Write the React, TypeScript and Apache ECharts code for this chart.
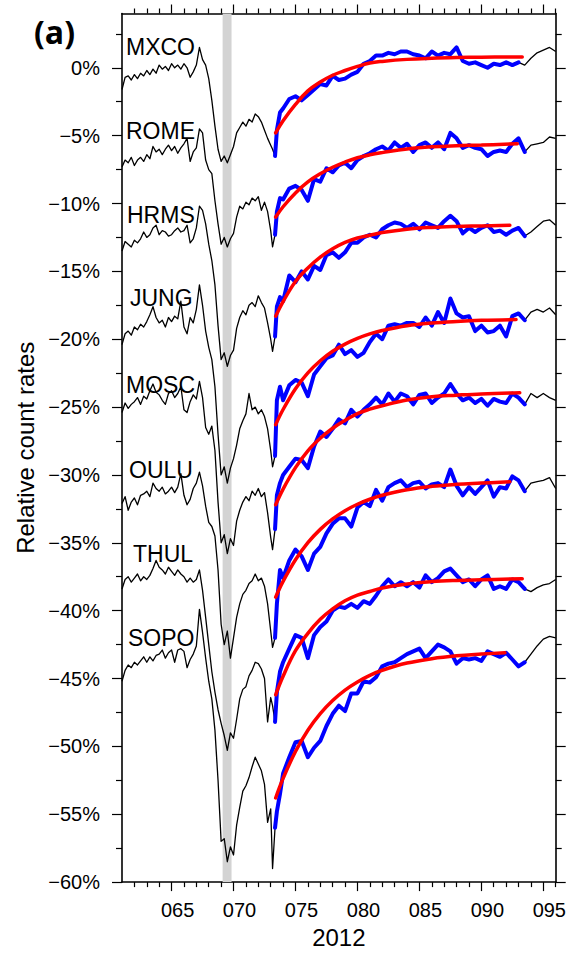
import React, { useEffect, useRef } from "react";
import * as echarts from "echarts";

// Day-of-year 2012 sample points (shared by all station traces)
const days = [
  61, 61.25, 61.5, 61.75, 62, 62.25, 62.5, 62.75, 63, 63.25, 63.5, 63.75,
  64, 64.25, 64.5, 64.75, 65, 65.25, 65.5, 65.75, 66, 66.25, 66.5, 66.75,
  67, 67.25, 67.5, 67.75, 68, 68.25, 68.5, 68.75, 69, 69.25, 69.5, 69.75,
  70, 70.25, 70.5, 70.75, 71, 71.25, 71.5, 71.75, 72, 72.25, 72.5, 72.75,
  73,
  73.15, 73.35, 73.5, 73.75,
  74, 74.5, 75, 75.5, 76, 76.5, 77, 77.5, 78, 78.5,
  79, 79.5, 80, 80.5, 81, 81.5, 82, 82.5, 83, 83.5,
  84, 84.5, 85, 85.5, 86, 86.5, 87, 87.5, 88, 88.5,
  89, 89.5, 90, 90.5, 91, 91.5, 92, 92.5, 93, 93.5,
  94, 94.5, 95, 95.5, 96,
];

const stations = ["MXCO", "ROME", "HRMS", "JUNG", "MOSC", "OULU", "THUL", "SOPO"];

const mxco = [
  -1.6, -0.7, -0.6, -0.9, -0.5, -0.8, -0.4, -0.6, -0.2, -0.5, -0.1, -0.4,
  0.2, -0.1, 0.1, -0.2, 0.3, 0.0, 0.2, -0.1, 0.3, 0.0, -0.7, -0.3,
  0.2, 1.5, 0.6, 0.2, -0.8, -2.4, -4.3, -6.0, -6.9, -6.5, -7.0, -6.4,
  -5.8, -4.8, -4.4, -4.0, -4.3, -3.8, -4.0, -3.4, -3.6, -4.0, -4.6, -5.2,
  -5.7,
  -6.0, -6.5, -4.6, -3.3,
  -3.0, -2.3, -2.1, -2.4, -2.0, -1.6, -1.2, -1.3, -0.6, -0.9,
  -0.8, -0.5, -0.3, 0.3, 0.5, 0.9, 0.9, 1.1, 1.0, 1.2,
  1.2, 1.0, 0.9, 0.7, 1.2, 0.9, 1.1, 1.0, 1.5, 0.5,
  0.3, 0.4, 0.2, 0.0, 0.3, 0.2, 0.4, 0.2, 0.4, 0.2,
  0.7, 1.1, 1.3, 1.5, 1.2,
];

const rome = [
  -7.3, -6.8, -7.0, -6.6, -7.2, -6.8, -6.6, -6.9, -6.4, -6.7, -5.8, -6.2,
  -6.0, -6.4, -6.0, -5.7, -6.1, -5.8, -6.3, -5.9, -5.6, -5.2, -6.9, -6.2,
  -5.9, -4.5, -4.8, -6.8, -7.5, -7.8, -9.8, -11.5, -13.0, -12.5, -13.2, -12.6,
  -12.2, -11.0, -10.2, -10.4, -9.9, -10.1, -9.6, -9.8, -9.5, -10.5, -9.9, -10.6,
  -12.0,
  -13.2, -12.3, -10.6, -9.6,
  -9.7, -8.9, -8.7, -9.0, -9.8, -8.2, -8.4, -7.4, -7.7, -7.2,
  -7.0, -7.4, -6.8, -6.5, -6.3, -6.0, -5.8, -6.1, -5.5, -5.9,
  -5.6, -6.2, -5.7, -5.5, -5.9, -5.5, -6.0, -4.8, -5.2, -5.9,
  -5.7, -5.9, -6.0, -6.5, -6.2, -6.1, -6.2, -5.6, -5.2, -6.2,
  -5.7, -5.6, -5.5, -5.1, -5.2,
];

const hrms = [
  -13.5, -12.8, -13.0, -13.2, -12.7, -12.9, -12.6, -12.1, -12.5, -12.3, -11.8, -11.6,
  -12.3, -12.0, -12.1, -12.4, -12.3, -12.0, -11.8, -12.1, -12.0, -11.6, -12.9, -12.6,
  -11.8, -10.2, -10.5, -11.5, -13.0, -14.2, -16.0, -19.0, -21.5, -21.0, -22.0, -21.2,
  -20.8, -19.2, -18.4, -17.9, -18.2, -17.5, -17.3, -17.6, -16.8, -17.3, -17.7, -18.8,
  -20.0,
  -20.9, -19.8, -17.6, -16.9,
  -17.2, -15.3, -15.8, -15.0, -15.6, -14.6, -14.9, -13.8, -13.6, -14.0,
  -13.6, -12.9, -12.9, -12.5, -12.3, -12.5, -11.9, -11.6, -11.4, -11.5,
  -11.8, -11.5, -11.9, -11.4, -11.6, -11.8, -11.3, -10.9, -11.3, -12.2,
  -11.8, -12.1, -11.8, -11.6, -12.1, -12.0, -12.3, -12.0, -11.8, -12.4,
  -12.1, -11.7, -11.3, -11.2, -11.6,
];

const jung = [
  -20.4, -19.6, -19.4, -19.7, -19.1, -19.3, -18.9, -19.1, -18.7, -18.2, -17.6, -18.4,
  -18.8, -18.6, -19.1, -18.4, -18.7, -18.3, -18.5, -17.2, -19.1, -19.6, -18.4, -18.8,
  -17.8, -16.0, -17.5, -19.4, -20.6, -21.5, -23.5, -27.0, -30.0, -29.4, -30.6, -29.5,
  -28.8, -27.8, -26.6, -26.0, -25.5, -24.0, -25.2, -25.0, -25.5, -25.2, -25.7, -26.6,
  -28.2,
  -29.4, -28.6, -24.5, -23.5,
  -24.5, -23.4, -23.0, -23.2, -24.2, -22.6, -22.0, -21.4, -21.2, -20.4,
  -21.1, -20.8, -21.3, -21.0, -20.2, -19.6, -20.0, -19.0, -18.9, -19.0,
  -18.8, -18.8, -19.1, -18.4, -19.0, -18.0, -18.8, -17.0, -18.1, -18.4,
  -18.3, -19.4, -19.0, -19.5, -19.4, -19.0, -19.8, -18.3, -18.1, -18.6,
  -18.0, -17.8, -18.0, -17.7, -18.2,
];

const mosc = [
  -25.4, -24.7, -25.1, -24.8, -24.6, -24.3, -24.8, -24.2, -24.4, -23.8, -23.3, -23.9,
  -24.1, -24.5, -24.8, -24.0, -23.8, -24.3, -24.0, -23.5, -25.2, -25.4, -24.6, -24.1,
  -24.4, -23.1, -24.3, -26.5, -27.0, -26.4, -28.2, -32.0, -35.0, -34.4, -35.8, -34.7,
  -35.2, -33.4, -32.6, -32.0, -31.6, -31.9, -31.2, -31.5, -31.0, -31.6, -31.3, -32.8,
  -34.6,
  -35.5, -34.0, -31.5, -30.6,
  -30.0, -29.4, -28.8, -28.9, -29.5, -27.9, -26.8, -27.2, -26.6, -25.9,
  -26.2, -25.2, -25.7, -25.2, -24.8, -24.3, -24.8, -24.0, -24.6, -24.0,
  -24.2, -24.8, -24.1, -24.0, -24.7, -24.3, -24.0, -23.3, -24.0, -24.5,
  -24.3, -24.7, -24.4, -24.9, -24.4, -24.6, -24.7, -24.0, -24.3, -24.8,
  -24.0, -24.3, -24.0, -24.3, -24.5,
];

const oulu = [
  -32.1, -31.6, -32.6, -32.0, -31.7, -32.2, -31.5, -31.4, -31.2, -31.6, -30.6, -31.0,
  -31.2, -30.9, -31.4, -31.2, -30.9, -31.3, -30.9, -29.9, -31.5, -32.2, -31.8, -31.0,
  -30.6, -29.8, -30.8, -32.3, -33.5, -33.8, -34.5, -37.0, -41.0, -42.5, -41.5, -43.5,
  -42.0, -40.5, -39.5, -38.8, -38.5, -38.0, -37.8, -37.3, -37.8, -37.6, -38.2, -39.5,
  -41.5,
  -42.7, -42.0, -39.5, -37.0,
  -37.6, -36.3, -35.5, -36.0, -37.0, -35.8, -35.3, -34.3, -33.6, -33.2,
  -33.2, -33.8, -32.4, -32.0, -32.3, -31.1, -31.9, -30.9, -30.6, -30.4,
  -30.9, -30.6, -30.5, -31.0, -30.7, -30.6, -30.9, -29.6, -30.8, -31.5,
  -30.9, -31.4, -30.9, -30.4, -31.6, -30.9, -31.0, -30.1, -30.4, -31.2,
  -30.6, -30.5, -30.4, -30.2, -31.0,
];

const thul = [
  -38.4, -37.7, -37.5, -37.9, -37.6, -37.3, -37.8, -37.5, -37.7, -37.4, -36.9, -36.3,
  -36.8, -37.0, -37.3, -36.8, -37.1, -37.4, -37.0, -37.3, -37.5, -37.9, -37.6, -37.9,
  -37.7, -37.0, -38.5, -40.5, -42.5, -44.5, -46.0, -47.3, -48.3, -49.2, -50.3, -49.0,
  -49.4, -48.0, -46.5, -45.8, -45.6, -44.8, -44.4, -43.8, -43.9, -44.3, -45.0, -48.2,
  -46.4,
  -47.0, -48.2, -46.0, -44.5,
  -43.8, -42.8, -41.8, -42.0, -43.5, -41.8, -41.2, -40.8, -40.0, -39.7,
  -39.8, -39.5, -39.8, -39.3, -39.5, -38.9, -38.2, -37.7, -38.2, -37.9,
  -38.2, -37.9, -38.3, -37.4, -37.9, -37.6, -37.1, -36.9, -37.4, -37.9,
  -37.7, -38.2, -37.7, -37.4, -38.4, -38.2, -38.4, -37.7, -37.9, -38.4,
  -38.6, -38.3, -38.1, -38.0, -37.7,
];

const sopo = [
  -45.2, -44.4, -44.0, -44.2, -43.8, -44.0, -43.7, -43.4, -43.8, -43.4, -43.7, -43.3,
  -43.2, -42.9, -43.5, -43.1, -42.9, -43.8, -42.9, -42.8, -43.0, -44.2, -43.6, -43.2,
  -42.6, -39.9, -41.6, -43.5, -45.2, -46.5, -48.8, -52.5, -57.0, -56.8, -58.5, -57.4,
  -58.0, -55.8, -54.5, -53.3, -52.9, -52.3, -51.5, -50.8, -51.3, -51.8, -52.8, -55.6,
  -54.6,
  -59.0, -56.0, -54.8, -53.5,
  -52.0, -50.8, -49.7, -49.6, -50.8, -50.1, -49.6, -48.5, -47.6, -47.0,
  -47.4, -46.1, -46.1, -45.2, -45.3, -44.9, -44.1, -43.9, -43.8, -43.5,
  -43.2, -43.0, -42.8, -43.5, -43.0, -42.5, -42.7, -43.0, -43.9, -43.5,
  -43.6, -43.5, -43.7, -43.0, -43.2, -43.4, -43.1, -43.6, -44.1, -43.8,
  -43.2, -42.6, -42.1, -41.9, -42.0,
];

const stationValues = [mxco, rome, hrms, jung, mosc, oulu, thul, sopo];

// Recovery phase shown in blue
const recoveryStart = 73.35;
const recoveryEnd = [93, 93.5, 93.5, 93.5, 93.5, 93.5, 93.5, 93.5];

// Fitted recovery curves (red)
const fitDays = [73.4, 74, 75, 76, 77, 78, 79, 80, 81, 82, 84, 86, 88, 90];
const mxcoFit = [-4.8, -3.9, -2.7, -1.7, -1.05, -0.55, -0.2, 0.1, 0.35, 0.47, 0.62, 0.7, 0.75, 0.78];
const romeFit = [-11.0, -10.24, -9.22, -8.41, -7.81, -7.33, -6.95, -6.63, -6.41, -6.25, -5.98, -5.82, -5.74, -5.69];
const hrmsFit = [-18.3, -17.23, -15.75, -14.75, -13.95, -13.34, -12.87, -12.54, -12.34, -12.14, -11.89, -11.76, -11.69, -11.65];
const jungFit = [-26.3, -25.18, -23.65, -22.48, -21.59, -20.89, -20.36, -19.94, -19.61, -19.36, -19.01, -18.81, -18.69, -18.61];
const moscFit = [-32.2, -31.04, -29.46, -28.22, -27.3, -26.56, -25.98, -25.48, -25.15, -24.9, -24.48, -24.23, -24.12, -24.03];
const ouluFit = [-39.0, -37.84, -36.25, -34.99, -34.01, -33.24, -32.63, -32.16, -31.79, -31.5, -31.09, -30.84, -30.69, -30.6];
const thulFit = [-46.2, -44.83, -42.95, -41.67, -40.64, -39.87, -39.27, -38.85, -38.59, -38.33, -38.03, -37.86, -37.77, -37.72];
const sopoFit = [-53.8, -52.36, -50.38, -48.81, -47.59, -46.62, -45.85, -45.25, -44.77, -44.39, -43.86, -43.54, -43.33, -43.2];
const fitValues = [mxcoFit, romeFit, hrmsFit, jungFit, moscFit, ouluFit, thulFit, sopoFit];
const fitEnds = [
  [93.3, 0.8], [92.9, -5.6], [92.3, -11.6], [92.8, -18.55],
  [93.1, -23.95], [92.3, -30.5], [93.3, -37.65], [91.9, -43.1],
];

// Shock arrival interval (grey band)
const eventStart = 69.12;
const eventEnd = 69.84;

// Axis ticks
const xMajorTicks = [65, 70, 75, 80, 85, 90, 95];
const xMinorTicks = [62, 63, 64, 66, 67, 68, 69, 71, 72, 73, 74, 76, 77, 78, 79, 81, 82, 83, 84, 86, 87, 88, 89, 91, 92, 93, 94, 96];
const yMajorTicks = [-60, -55, -50, -45, -40, -35, -30, -25, -20, -15, -10, -5, 0];
const yMinorTicks = [-57.5, -52.5, -47.5, -42.5, -37.5, -32.5, -27.5, -22.5, -17.5, -12.5, -7.5, -2.5, 2.5];

const FONT = "'Liberation Sans', Arial, Helvetica, sans-serif";

export default function App() {
  const ref = useRef<HTMLDivElement>(null);

  useEffect(() => {
    if (!ref.current) return;
    const chart = echarts.init(ref.current, null, { renderer: "svg" });

    const axisLine = { show: true, onZero: false, lineStyle: { color: "#000", width: 1.6 } };
    const noLine = { show: false, onZero: false };
    const tickStyle = { color: "#000", width: 1.2 };

    const xBase = { type: "value", min: 61, max: 96, gridIndex: 0, splitLine: { show: false } };
    const yBase = { type: "value", min: -60, max: 4, gridIndex: 0, splitLine: { show: false } };

    const series: any[] = [
      {
        type: "line",
        data: [],
        z: 1,
        silent: true,
        markArea: {
          silent: true,
          itemStyle: { color: "#d3d3d3" },
          data: [[{ xAxis: eventStart }, { xAxis: eventEnd }]],
        },
      },
    ];

    stationValues.forEach((vals, i) => {
      const full = days.map((d, k) => [d, vals[k]]);
      const blue = full.filter(([d]) => d >= recoveryStart && d <= recoveryEnd[i]);
      const fit = fitDays
        .filter((d) => d <= fitEnds[i][0])
        .map((d, k) => [d, fitValues[i][k]])
        .concat([fitEnds[i]]);
      series.push({
        type: "line",
        name: stations[i],
        data: full,
        symbol: "none",
        silent: true,
        z: 2,
        lineStyle: { color: "#000", width: 1.3, join: "round" },
        itemStyle: { color: "#000" },
      });
      series.push({
        type: "line",
        name: stations[i] + " recovery",
        data: blue,
        symbol: "none",
        silent: true,
        z: 3,
        lineStyle: { color: "#0000ff", width: 4, join: "round", cap: "round" },
        itemStyle: { color: "#0000ff" },
      });
      series.push({
        type: "line",
        name: stations[i] + " fit",
        data: fit,
        smooth: 0.4,
        symbol: "none",
        silent: true,
        z: 4,
        lineStyle: { color: "#ff0000", width: 3.5, cap: "round" },
        itemStyle: { color: "#ff0000" },
      });
    });

    const labelPos = [
      [126, 47], [126, 131], [127, 215], [130, 298],
      [126, 385], [129, 470], [133, 554], [128, 638],
    ];

    const option: any = {
      animation: false,
      backgroundColor: "#fff",
      grid: { left: 122, right: 10.5, top: 13.5, bottom: 66 },
      xAxis: [
        {
          ...xBase,
          position: "bottom",
          axisLine,
          axisTick: { show: true, customValues: xMajorTicks, length: 9, lineStyle: tickStyle },
          axisLabel: {
            customValues: xMajorTicks,
            formatter: (v: number) => ("00" + v).slice(-3),
            fontSize: 20,
            fontFamily: FONT,
            color: "#000",
            margin: 18,
            padding: [0, 0, 0, 12],
          },
          name: "2012",
          nameLocation: "middle",
          nameGap: 42,
          nameTextStyle: { fontSize: 24, fontFamily: FONT, color: "#000" },
        },
        {
          ...xBase,
          position: "bottom",
          axisLine: noLine,
          axisTick: { show: true, customValues: xMinorTicks, length: 5, lineStyle: tickStyle },
          axisLabel: { show: false },
        },
        {
          ...xBase,
          position: "top",
          axisLine,
          axisTick: { show: true, customValues: xMajorTicks, length: 9, lineStyle: tickStyle },
          axisLabel: { show: false },
        },
        {
          ...xBase,
          position: "top",
          axisLine: noLine,
          axisTick: { show: true, customValues: xMinorTicks, length: 5, lineStyle: tickStyle },
          axisLabel: { show: false },
        },
      ],
      yAxis: [
        {
          ...yBase,
          position: "left",
          axisLine,
          axisTick: { show: true, customValues: yMajorTicks, length: 10, lineStyle: tickStyle },
          axisLabel: {
            customValues: yMajorTicks,
            formatter: (v: number) => (v < 0 ? "\u2212" + Math.abs(v) : String(v)) + "%",
            fontSize: 20,
            fontFamily: FONT,
            color: "#000",
            margin: 22,
          },
          name: "Relative count rates",
          nameLocation: "middle",
          nameGap: 84,
          nameTextStyle: { fontSize: 24, fontFamily: FONT, color: "#000" },
        },
        {
          ...yBase,
          position: "left",
          axisLine: noLine,
          axisTick: { show: true, customValues: yMinorTicks, length: 6, lineStyle: tickStyle },
          axisLabel: { show: false },
        },
        {
          ...yBase,
          position: "right",
          axisLine,
          axisTick: { show: true, customValues: yMajorTicks, length: 10, lineStyle: tickStyle },
          axisLabel: { show: false },
        },
        {
          ...yBase,
          position: "right",
          axisLine: noLine,
          axisTick: { show: true, customValues: yMinorTicks, length: 6, lineStyle: tickStyle },
          axisLabel: { show: false },
        },
      ],
      graphic: [
        {
          type: "text",
          left: 34,
          top: 15,
          style: {
            text: "(a)",
            font: "bold 32px 'Open Sans', 'Liberation Sans', Arial, sans-serif",
            fill: "#000",
          },
        },
        ...stations.map((s, i) => ({
          type: "text",
          x: labelPos[i][0],
          y: labelPos[i][1],
          z: 10,
          style: {
            text: s,
            font: `23px ${FONT}`,
            fill: "#000",
            align: "left",
            verticalAlign: "middle",
            textAlign: "left",
            textVerticalAlign: "middle",
          },
        })),
      ],
      series,
    };

    chart.setOption(option);
    return () => chart.dispose();
  }, []);

  return (
    <div
      ref={ref}
      style={{ position: "absolute", left: 0, top: 0, width: 569, height: 954, background: "#fff" }}
    />
  );
}
